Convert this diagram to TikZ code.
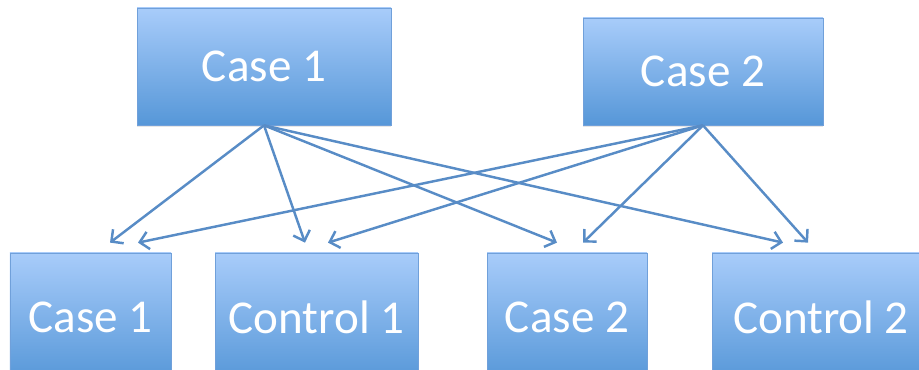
\documentclass[tikz,border=0pt]{standalone}
\usepackage{fontspec}
\setmainfont{Carlito}
\usepackage{tikz}
\usepackage{xcolor}
\usetikzlibrary{arrows.meta}
\usetikzlibrary{shadows}

\definecolor{boxtop}{RGB}{168,204,250}
\definecolor{boxbot}{RGB}{86,151,216}
\definecolor{boxline}{RGB}{112,160,218}
\definecolor{arrowblue}{RGB}{88,140,198}

\begin{document}
\begin{tikzpicture}[
  group/.style={draw=boxline, line width=0.4pt, top color=boxtop, bottom color=boxbot,
    drop shadow={opacity=0.2, shadow xshift=0pt, shadow yshift=-0.05cm},
    text=white, font=\fontsize{26.8}{30}\selectfont, inner sep=0pt},
  link/.style={draw=arrowblue, line width=1.4pt, -{Straight Barb[length=5pt,width=10pt,line width=1.4pt]}}
]
\useasboundingbox (0,0) rectangle (18.38,7.4);
\clip (0,0) rectangle (18.38,7.4);
% upper level
\node[group, minimum width=5.08cm, minimum height=2.34cm] (c1) at (5.28,6.07) {Case 1};
\node[group, minimum width=4.8cm, minimum height=2.14cm] (c2) at (14.06,5.97) {Case 2};
% lower level
\node[group, minimum width=3.22cm, minimum height=2.56cm] (b1) at (1.81,1.06) {Case 1};
\node[group, minimum width=4.06cm, minimum height=2.56cm] (b2) at (6.33,1.06) {Control 1};
\node[group, minimum width=3.2cm, minimum height=2.56cm] (b3) at (11.34,1.06) {Case 2};
\node[group, minimum width=4.36cm, minimum height=2.56cm] (b4) at (16.42,1.06) {Control 2};
% every case points to every group below
\draw[link] (c1.south) -- ([xshift=0.39cm,yshift=0.2cm]b1.north);
\draw[link] (c1.south) -- ([xshift=-0.23cm,yshift=0.2cm]b2.north);
\draw[link] (c1.south) -- ([xshift=-0.2cm,yshift=0.2cm]b3.north);
\draw[link] (c1.south) -- ([xshift=-0.76cm,yshift=0.2cm]b4.north);
\draw[link] (c2.south) -- ([xshift=0.95cm,yshift=0.2cm]b1.north);
\draw[link] (c2.south) -- ([xshift=0.23cm,yshift=0.2cm]b2.north);
\draw[link] (c2.south) -- ([xshift=0.32cm,yshift=0.2cm]b3.north);
\draw[link] (c2.south) -- ([xshift=-0.26cm,yshift=0.2cm]b4.north);
\end{tikzpicture}
\end{document}
